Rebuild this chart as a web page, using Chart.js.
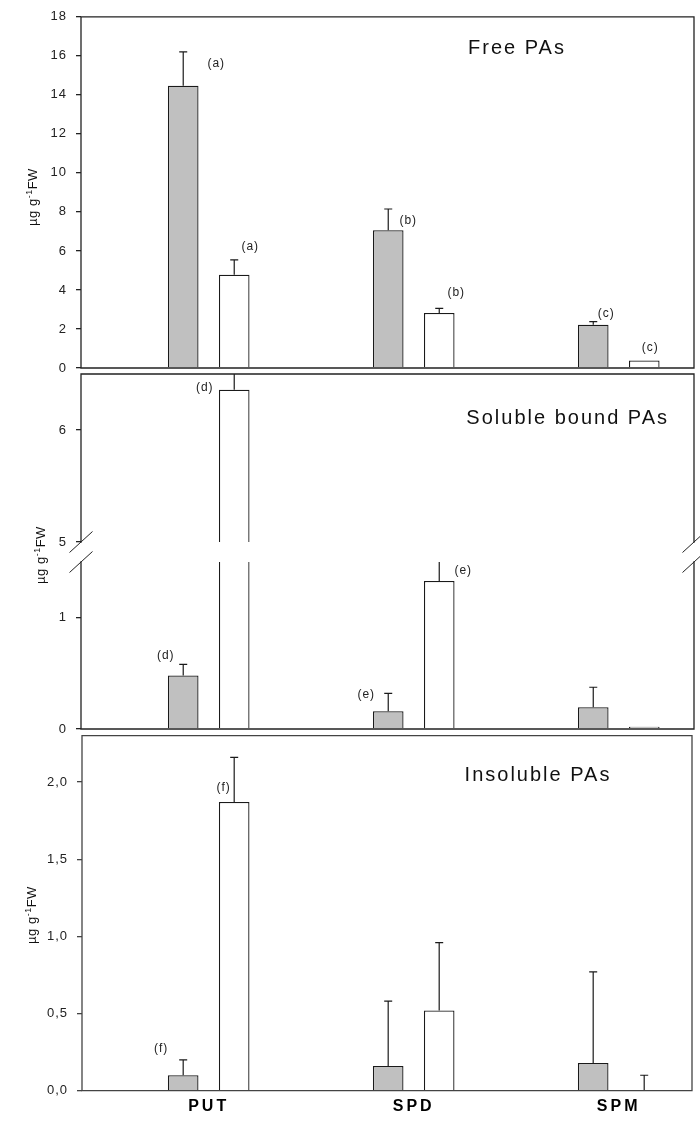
<!DOCTYPE html>
<html><head><meta charset="utf-8">
<script src="https://cdn.jsdelivr.net/npm/chart.js@4.4.0/dist/chart.umd.min.js"></script>
<style>
html,body{margin:0;padding:0;background:#fff;}
#wrap{position:relative;width:700px;height:1124px;overflow:hidden;background:#fff;}
canvas{position:absolute;left:0;top:0;}
</style></head><body>
<div id="wrap">
<canvas id="c1" width="700" height="1124"></canvas>
<canvas id="c2" width="700" height="1124"></canvas>
<canvas id="c3" width="700" height="1124"></canvas>
<canvas id="c4" width="700" height="1124"></canvas>
</div>
<script>
// ---------------- data ----------------
const categories = ['PUT', 'SPD', 'SPM'];

// Free PAs (µg g-1 FW)
const freeGray = [14.47, 7.06, 2.22];
const freeGrayErr = [1.73, 1.09, 0.16];
const freeWhite = [4.78, 2.82, 0.39];
const freeWhiteErr = [0.76, 0.24, 0];

// Soluble bound PAs
const solGray = [0.48, 0.16, 0.195];
const solGrayErr = [0.10, 0.16, 0.18];
const solWhite = [6.36, 1.33, 0.02];
const solWhiteErr = [0.60, 0.30, 0];

// Insoluble PAs
const insGray = [0.10, 0.16, 0.18];
const insGrayErr = [0.10, 0.42, 0.59];
const insWhite = [1.87, 0.52, 0];
const insWhiteErr = [0.29, 0.44, 0.10];

// tick values / labels
const freeTicks = [0, 2, 4, 6, 8, 10, 12, 14, 16, 18];
const solUpperTicks = [5, 6];
const solLowerTicks = [0, 1];
const insTicks = [0, 0.5, 1.0, 1.5, 2.0];
const insTickLabels = ['0,0', '0,5', '1,0', '1,5', '2,0'];

// significance letters
const freeLetters = ['(a)', '(b)', '(c)'];
const solLetters = ['(d)', '(e)'];
const insLetters = ['(f)'];

// ---------------- rendering ----------------
const FONT = '"Liberation Sans", Arial, Helvetica, sans-serif';
const INK = '#1a1a1a';

function panelPlugin(p) {
  return {
    id: 'panel',
    beforeDraw(chart) { chart.ctx.letterSpacing = p.xLabels ? '3px' : '1px'; },
    beforeDatasetsDraw(chart) { chart.ctx.letterSpacing = '0px'; },
    afterDatasetsDraw(chart) {
      const ctx = chart.ctx, ca = chart.chartArea, ys = chart.scales.y;
      // error bars (upper only)
      ctx.save();
      ctx.beginPath();
      ctx.rect(ca.left, ca.top, ca.right - ca.left, ca.bottom - ca.top);
      ctx.clip();
      ctx.strokeStyle = INK; ctx.lineWidth = 1.2;
      chart.data.datasets.forEach((ds, di) => {
        const meta = chart.getDatasetMeta(di);
        ds.errors.forEach((e, i) => {
          if (!e) return;
          const el = meta.data[i];
          const v = ds.data[i].y;
          const y0 = ys.getPixelForValue(v), y1 = ys.getPixelForValue(v + e);
          ctx.beginPath();
          ctx.moveTo(el.x, y0); ctx.lineTo(el.x, y1);
          ctx.moveTo(el.x - 4, y1); ctx.lineTo(el.x + 4, y1);
          ctx.stroke();
        });
      });
      ctx.restore();
      // letters
      ctx.save();
      ctx.letterSpacing = '1px';
      ctx.font = '12px ' + FONT;
      ctx.fillStyle = '#222';
      ctx.textAlign = 'center'; ctx.textBaseline = 'middle';
      (p.notes || []).forEach(n => {
        const el = chart.getDatasetMeta(n.ds).data[n.i];
        ctx.fillText(n.t, el.x + n.dx, ys.getPixelForValue(n.y));
      });
      ctx.restore();
      // frame
      const L = ca.left, R = ca.right, T = ca.top, B = ca.bottom;
      ctx.save();
      ctx.strokeStyle = p.frameColor || '#222'; ctx.lineWidth = 1.3; ctx.lineCap = 'square';
      ctx.beginPath();
      if (p.frameTop) { ctx.moveTo(L, T); ctx.lineTo(R, T); }
      if (p.frameBottom) { ctx.moveTo(L, B); ctx.lineTo(R, B); }
      ctx.moveTo(L, T); ctx.lineTo(L, B);
      ctx.moveTo(R, T); ctx.lineTo(R, B);
      ctx.stroke();
      ctx.lineCap = 'butt'; ctx.lineWidth = 1;
      const slash = (x, y) => { ctx.moveTo(x - 11.5, y + 10.5); ctx.lineTo(x + 11.5, y - 10.5); };
      ctx.beginPath();
      if (p.breakBelow) { slash(L, B); slash(R, B); }
      if (p.breakAbove) { slash(L, T); slash(R, T); }
      ctx.stroke();
      ctx.restore();
      // panel title
      if (p.title) {
        ctx.save();
        ctx.letterSpacing = '2px';
        ctx.font = '20px ' + FONT;
        ctx.fillStyle = '#111';
        ctx.textBaseline = 'middle';
        ctx.textAlign = p.title.align;
        ctx.fillText(p.title.text, p.title.x, p.title.y);
        ctx.restore();
      }
      // y axis title  µg g-1FW
      if (p.yTitle) {
        ctx.save();
        ctx.translate(p.yTitle.x, p.yTitle.y);
        ctx.rotate(-Math.PI / 2);
        ctx.fillStyle = '#111';
        ctx.letterSpacing = '0.5px';
        ctx.textBaseline = 'alphabetic'; ctx.textAlign = 'left';
        const parts = [['\u00B5g g', '13px ' + FONT, 0], ['-1', '9px ' + FONT, -5], ['FW', '13px ' + FONT, 0]];
        let total = 0;
        parts.forEach(pt => { ctx.font = pt[1]; pt.push(ctx.measureText(pt[0]).width); total += pt[3]; });
        let x = -total / 2;
        parts.forEach(pt => { ctx.font = pt[1]; ctx.fillText(pt[0], x, 4 + pt[2]); x += pt[3]; });
        ctx.restore();
      }
      ctx.letterSpacing = '1px';
    },
    afterDraw(chart) { chart.ctx.letterSpacing = '0px'; }
  };
}

function makeChart(id, c) {
  const xH = c.xLabels ? 30 : 0;
  return new Chart(document.getElementById(id), {
    type: 'bar',
    data: {
      datasets: [
        { data: c.gray.map((v, i) => ({ x: i, y: v })), errors: c.grayErr, backgroundColor: '#c0c0c0' },
        { data: c.white.map((v, i) => ({ x: i, y: v })), errors: c.whiteErr, backgroundColor: '#ffffff' }
      ]
    },
    options: {
      responsive: false, animation: false, devicePixelRatio: 1,
      events: [],
      layout: { padding: { top: c.area.top, left: 0, right: 700 - c.area.right, bottom: 1124 - c.area.bottom - xH } },
      plugins: { legend: { display: false }, tooltip: { enabled: false } },
      datasets: { bar: { categoryPercentage: 0.4976, barPercentage: 0.6, clip: 0, borderWidth: 1.3, borderColor: INK, borderSkipped: 'start' } },
      scales: {
        x: {
          type: 'linear', min: c.xMin, max: c.xMax, display: !!c.xLabels, offset: false,
          afterBuildTicks: s => { s.ticks = categories.map((_, i) => ({ value: i })); },
          afterFit: s => { s.height = xH; },
          grid: { display: false, drawTicks: false, offset: false }, border: { display: false },
          ticks: { callback: v => categories[v], autoSkip: false, maxRotation: 0, padding: 6,
                   font: { family: FONT, size: 16, weight: 'bold' }, color: '#000' }
        },
        y: {
          type: 'linear', min: c.yMin, max: c.yMax,
          afterBuildTicks: s => { s.ticks = c.ticks.map(v => ({ value: v })); },
          afterFit: s => { s.width = c.area.left; },
          grid: { drawOnChartArea: false, drawTicks: true, tickLength: 5, color: c.frameColor || '#222', lineWidth: 1.3 },
          border: { display: false },
          ticks: { z: 1, padding: 9, autoSkip: false, color: '#222', font: { family: FONT, size: 13 },
                   callback: (v, i) => c.tickLabels ? c.tickLabels[i] : String(v) }
        }
      }
    },
    plugins: [panelPlugin(c)]
  });
}

// Free PAs
makeChart('c1', {
  area: { left: 81, top: 13, right: 694, bottom: 368 }, xMin: -0.623, xMax: 2.367,
  yMin: 0, yMax: 18, ticks: freeTicks,
  gray: freeGray, grayErr: freeGrayErr, white: freeWhite, whiteErr: freeWhiteErr,
  frameTop: true, frameBottom: true,
  title: { text: 'Free PAs', x: 517, y: 48, align: 'center' },
  yTitle: { x: 33, y: 197 },
  notes: [
    { ds: 0, i: 0, t: freeLetters[0], y: 15.6, dx: 33 },
    { ds: 1, i: 0, t: freeLetters[0], y: 6.24, dx: 16 },
    { ds: 0, i: 1, t: freeLetters[1], y: 7.56, dx: 20 },
    { ds: 1, i: 1, t: freeLetters[1], y: 3.85, dx: 17 },
    { ds: 0, i: 2, t: freeLetters[2], y: 2.79, dx: 13 },
    { ds: 1, i: 2, t: freeLetters[2], y: 1.06, dx: 6 }
  ]
});

// Soluble bound PAs - upper segment of broken axis
makeChart('c2', {
  area: { left: 81, top: 374, right: 694, bottom: 542 }, xMin: -0.623, xMax: 2.367,
  yMin: 5.0, yMax: 6.5, ticks: solUpperTicks,
  gray: solGray, grayErr: solGrayErr, white: solWhite, whiteErr: solWhiteErr,
  frameTop: true, frameBottom: false, breakBelow: true,
  title: { text: 'Soluble bound PAs', x: 669, y: 418, align: 'right' },
  notes: [ { ds: 1, i: 0, t: solLetters[0], y: 6.375, dx: -29.5 } ]
});

// Soluble bound PAs - lower segment
makeChart('c3', {
  area: { left: 81, top: 562, right: 694, bottom: 729 }, xMin: -0.623, xMax: 2.367,
  yMin: 0, yMax: 1.5, ticks: solLowerTicks,
  gray: solGray, grayErr: solGrayErr, white: solWhite, whiteErr: solWhiteErr,
  frameTop: false, frameBottom: true, breakAbove: true,
  yTitle: { x: 41, y: 555 },
  notes: [
    { ds: 0, i: 0, t: solLetters[0], y: 0.658, dx: -17.5 },
    { ds: 0, i: 1, t: solLetters[1], y: 0.306, dx: -22 },
    { ds: 1, i: 1, t: solLetters[1], y: 1.42, dx: 24 }
  ]
});

// Insoluble PAs
makeChart('c4', {
  area: { left: 82, top: 735.7, right: 692, bottom: 1090.7 }, xMin: -0.618, xMax: 2.3576,
  yMin: 0, yMax: 2.3, ticks: insTicks, tickLabels: insTickLabels, xLabels: true,
  gray: insGray, grayErr: insGrayErr, white: insWhite, whiteErr: insWhiteErr,
  frameTop: true, frameBottom: true, frameColor: '#444',
  title: { text: 'Insoluble PAs', x: 538, y: 775, align: 'center' },
  yTitle: { x: 32, y: 915 },
  notes: [
    { ds: 0, i: 0, t: insLetters[0], y: 0.27, dx: -22 },
    { ds: 1, i: 0, t: insLetters[0], y: 1.96, dx: -10.5 }
  ]
});
</script>
</body></html>
